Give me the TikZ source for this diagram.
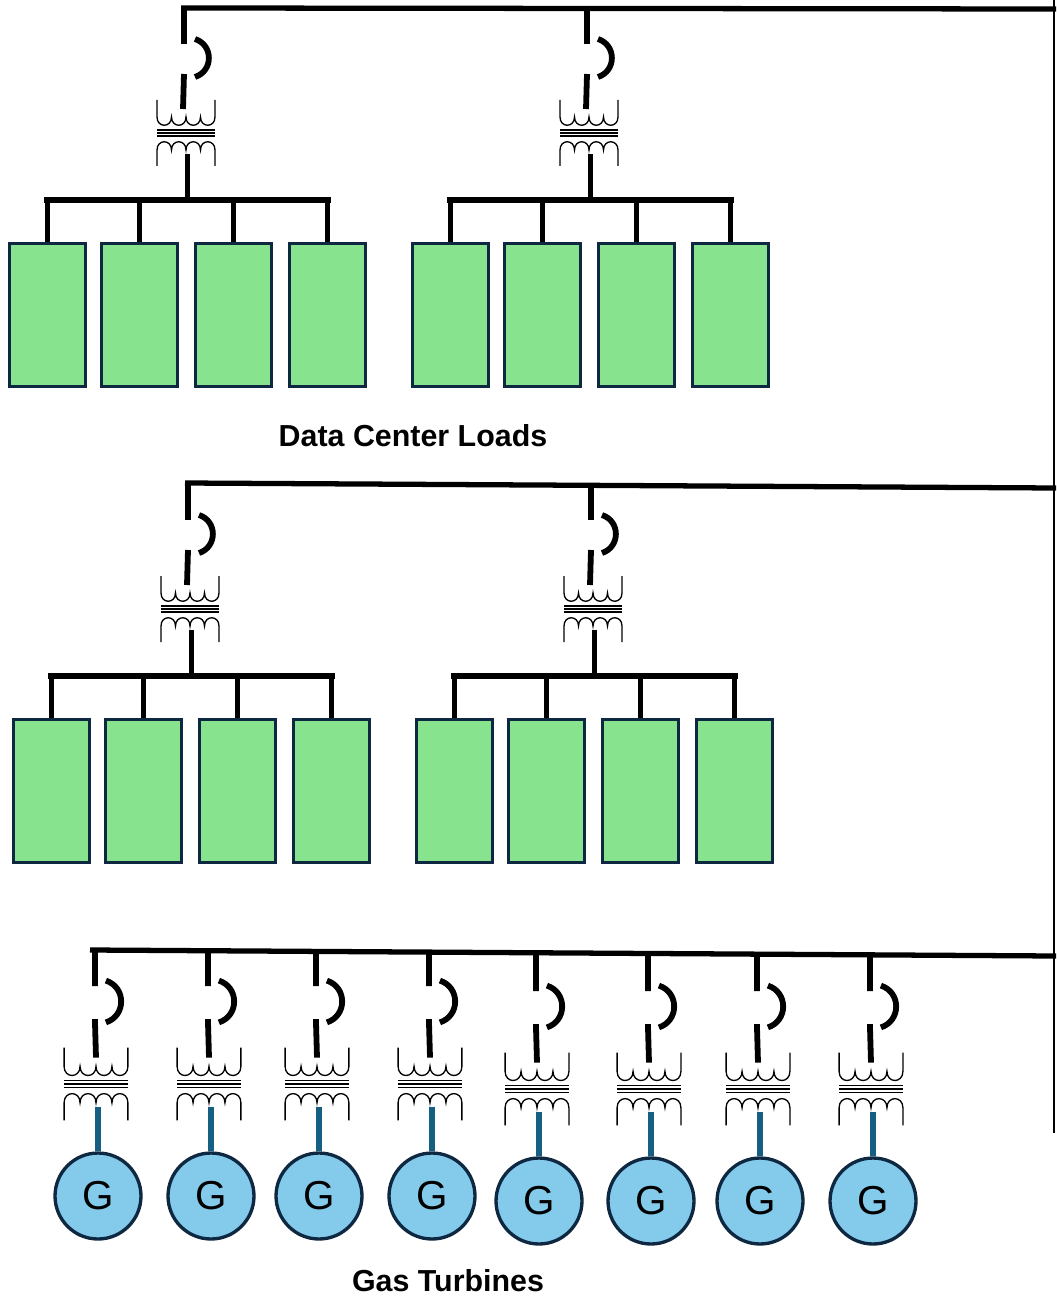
\documentclass[tikz,border=0pt]{standalone}
\usepackage{fontspec}
\setmainfont{Liberation Sans}
\definecolor{loadgreen}{HTML}{88E38F}
\definecolor{gasblue}{HTML}{83CAEB}
\definecolor{darknavy}{HTML}{0E2841}
\definecolor{stemblue}{HTML}{156082}
\def\stubx{-2}
\def\lowx{-3}
\tikzset{
  xfmr/.pic={
    \coordinate (-top) at (\stubx,-89);
    \coordinate (-low) at (\lowx,-24);
    \coordinate (-mid) at (\stubx,-59);
    \coordinate (-sec) at (1.5,21);
    \draw[stub] (-mid) -- (-low);
    \draw[stub] (9,-94) .. controls (27.5,-88) and (27.5,-62) .. (9,-56);
    \draw[coil] (-29,-33) -- ++(0,17)
      .. controls +(0,11) and +(0,11) .. ++(14.5,0)
      .. controls +(0,11) and +(0,11) .. ++(14.5,0)
      .. controls +(0,11) and +(0,11) .. ++(14.5,0)
      .. controls +(0,11) and +(0,11) .. ++(14.5,0) -- ++(0,-17);
    \draw[coil] (-29,33) -- ++(0,-16)
      .. controls +(0,-11) and +(0,-11) .. ++(14.5,0)
      .. controls +(0,-11) and +(0,-11) .. ++(14.5,0)
      .. controls +(0,-11) and +(0,-11) .. ++(14.5,0)
      .. controls +(0,-11) and +(0,-11) .. ++(14.5,0) -- ++(0,16);
    \foreach \cy in {-3,0,3} \draw[coil] (-29,\cy) -- (29,\cy);
  }
}
\begin{document}
\begin{tikzpicture}[x=0.02cm,y=-0.02cm]
      \tikzstyle{bus} = [draw=black, line width=3pt]
      \tikzstyle{stub} = [draw=black, line width=3.3pt]
      \tikzstyle{coil} = [draw=black, line width=0.75pt]
      \tikzstyle{load} = [rectangle, draw=darknavy, line width=2.2pt, fill=loadgreen, minimum width=1.52cm, minimum height=2.86cm, inner sep=0pt]
      \tikzstyle{gen} = [circle, draw=darknavy, line width=1.9pt, fill=gasblue, minimum size=1.72cm, inner sep=0pt, font=\fontsize{23}{23}\selectfont]
      \tikzstyle{lbl} = [font=\fontsize{17.3}{19}\selectfont\bfseries, inner sep=0pt]
      \useasboundingbox (0,0) rectangle (1056,1297);

      % main buses
      \coordinate (tie1) at (1054,0);
      \coordinate (tie2) at (1054,1133);
      \coordinate (busa) at (181,8);
      \coordinate (busae) at (1056,9);
      \coordinate (busb) at (185,483);
      \coordinate (busbe) at (1056,488);
      \coordinate (busc) at (90,950);
      \coordinate (busce) at (1056,956);
      \draw[line width=1.6pt] (tie1) -- (tie2);
      \draw[bus] (busa) -- (busae);
      \draw[bus] (busb) -- (busbe);
      \draw[bus] (busc) -- (busce);

      % load groups
      \foreach \gx/\gy/\gn in {0/0/a,4/476/b} {
        \foreach \cx/\cn in {0/l,403/r} {
          \pic (t\gn\cn) at (186+\gx+\cx,133+\gy) {xfmr};
          \draw[stub] (t\gn\cn-top) -- (t\gn\cn-top |- bus\gn);
          \coordinate (sub\gn\cn) at (44+\gx+\cx,200+\gy);
          \coordinate (sube\gn\cn) at (331+\gx+\cx,200+\gy);
          \draw[bus] (sub\gn\cn) -- (sube\gn\cn);
          \draw[stub] (t\gn\cn-sec) -- (t\gn\cn-sec |- sub\gn\cn);
          \foreach \lx/\li in {47.5/1,139.5/2,233.5/3,327.5/4} {
            \node[load] (load\gn\cn\li) at (\lx+\gx+\cx,315+\gy) {};
            \draw[bus] (load\gn\cn\li.north |- sub\gn\cn) -- (load\gn\cn\li.north);
          }
        }
      }

      % gas turbines
      \def\stubx{-1}
      \def\lowx{0}
      \foreach \tx/\ty/\by/\ti in {96/1084/951/1,209/1084/951/2,317/1084/952/3,430/1084/952/4,537/1089/953/5,649/1089/954/6,758/1089/954/7,871/1089/955/8} {
        \pic[scale=1.1] (tg\ti) at (\tx,\ty) {xfmr};
        \coordinate (tap\ti) at (\tx-1.1,\by);
        \draw[stub] (tap\ti) -- (tg\ti-top);
        \node[gen] (g\ti) at (\tx+2,\ty+112) {G};
        \coordinate (stem\ti) at (\tx+2,\ty+23);
        \draw[draw=stemblue, line width=3pt] (stem\ti) -- (g\ti.north);
      }

      \node[lbl] (dcl) at (413,436) {Data Center Loads};
      \node[lbl] (gast) at (448,1281) {Gas Turbines};
    \end{tikzpicture}
\end{document}
